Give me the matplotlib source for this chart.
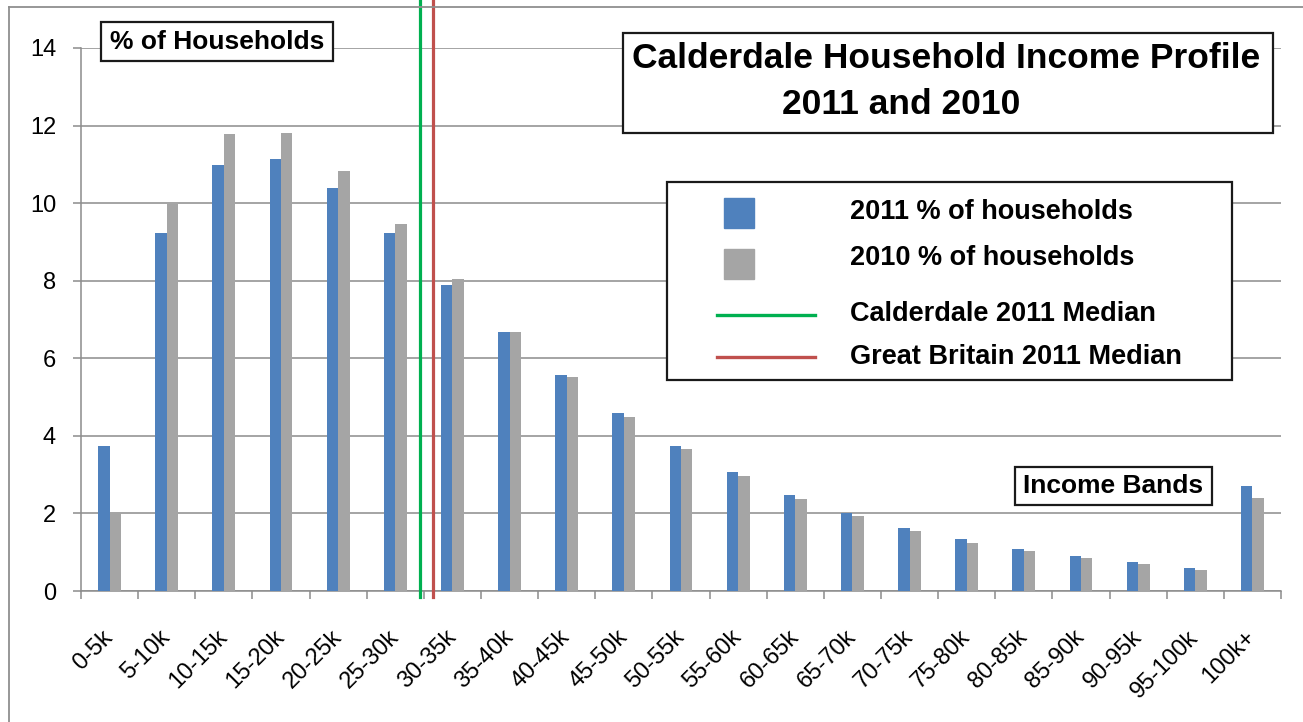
import matplotlib
matplotlib.use("Agg")
import matplotlib.pyplot as plt
import numpy as np
from matplotlib.patches import Rectangle
from matplotlib.lines import Line2D

plt.rcParams['font.family'] = ['Liberation Sans', 'DejaVu Sans']

# income bands and share of households (%)
bands = ['0-5k', '5-10k', '10-15k', '15-20k', '20-25k', '25-30k', '30-35k',
         '35-40k', '40-45k', '45-50k', '50-55k', '55-60k', '60-65k', '65-70k',
         '70-75k', '75-80k', '80-85k', '85-90k', '90-95k', '95-100k', '100k+']
pct_2011 = [3.73, 9.23, 10.99, 11.14, 10.39, 9.23, 7.90, 6.68, 5.56, 4.58,
            3.75, 3.06, 2.48, 2.02, 1.63, 1.33, 1.09, 0.89, 0.75, 0.60, 2.70]
pct_2010 = [2.00, 9.99, 11.77, 11.82, 10.84, 9.47, 8.04, 6.68, 5.51, 4.49,
            3.65, 2.97, 2.37, 1.94, 1.54, 1.23, 1.04, 0.84, 0.70, 0.55, 2.40]

# medians in £k
calderdale_median = 29.7
gb_median = 30.8
band_width = 5.0

BLUE = '#4f81bd'
GREY = '#a5a5a5'
GREEN = '#00b050'
RED = '#c0504d'
GRID = '#8c8c8c'

W, H = 1303, 722
fig = plt.figure(figsize=(W / 100, H / 100), dpi=100)


def fx(x):
    return x / W


def fy(y):
    return 1 - y / H


def box(x0, y0, x1, y1, lw=1.6):
    fig.add_artist(Rectangle((fx(x0), fy(y1)), fx(x1) - fx(x0), fy(y0) - fy(y1),
                             transform=fig.transFigure, facecolor='white',
                             edgecolor='#1a1a1a', linewidth=lw, zorder=5))


# outer chart frame
fig.add_artist(Line2D([fx(9), fx(W + 5)], [fy(7), fy(7)], transform=fig.transFigure,
                      color='#8f8f8f', lw=1.3))
fig.add_artist(Line2D([fx(9), fx(9)], [fy(7), fy(H + 5)], transform=fig.transFigure,
                      color='#8f8f8f', lw=1.3))

ax = fig.add_axes([fx(81), fy(591), fx(1281) - fx(81), fy(48) - fy(591)])
x = np.arange(len(bands))
ax.bar(x - 0.1, pct_2011, 0.2, color=BLUE, zorder=3)
ax.bar(x + 0.1, pct_2010, 0.2, color=GREY, zorder=3)

ax.set_xlim(-0.5, len(bands) - 0.5)
ax.set_ylim(0, 14)
ax.set_yticks(np.arange(0, 15, 2))
ax.yaxis.grid(True, color=GRID, lw=1.1, zorder=0)
ax.set_axisbelow(True)

ax.set_xticks(np.arange(-0.5, len(bands), 1))
ax.set_xticklabels([])
ax.set_xticks(x, minor=True)
ax.set_xticklabels(bands, minor=True, rotation=45, ha='right', va='center',
                   rotation_mode='anchor', fontsize=17)
ax.tick_params(axis='x', which='minor', length=0, pad=31)
ax.tick_params(axis='x', which='major', length=6, color=GRID, width=1.1)
ax.tick_params(axis='y', length=6, color=GRID, width=1.1, pad=12, labelsize=17)

for side in ['top', 'right']:
    ax.spines[side].set_visible(False)
for side in ['left', 'bottom']:
    ax.spines[side].set_color(GRID)
    ax.spines[side].set_linewidth(1.1)

# median markers, running past the plot area
y_lo, y_hi = -6 / 38.8, 591 / 38.8
for med, col in [(calderdale_median, GREEN), (gb_median, RED)]:
    pos = med / band_width - 0.5
    ax.plot([pos, pos], [y_lo, y_hi], color=col, lw=2.3, clip_on=False, zorder=4)

# title
box(623, 33, 1273, 133)
fig.text(fx(946), fy(59), 'Calderdale Household Income Profile', ha='center',
         va='center', fontsize=25.5, fontweight='bold', zorder=6)
fig.text(fx(901), fy(104), '2011 and 2010', ha='center', va='center',
         fontsize=25.5, fontweight='bold', zorder=6)

# axis captions
box(101, 22, 333, 61)
fig.text(fx(217), fy(42), '% of Households', ha='center', va='center',
         fontsize=19, fontweight='bold', zorder=6)
box(1015, 467, 1212, 505)
fig.text(fx(1113), fy(486), 'Income Bands', ha='center', va='center',
         fontsize=19, fontweight='bold', zorder=6)

# legend
box(667, 182, 1232, 380)
for y0, col in [(198, BLUE), (249, GREY)]:
    fig.add_artist(Rectangle((fx(724), fy(y0 + 30)), fx(30), fy(0) - fy(30),
                             transform=fig.transFigure, color=col, zorder=6))
for yy, col in [(315, GREEN), (357, RED)]:
    fig.add_artist(Line2D([fx(717), fx(815)], [fy(yy), fy(yy)],
                          transform=fig.transFigure, color=col, lw=2.4, zorder=6))
labels = ['2011 % of households', '2010 % of households',
          'Calderdale 2011 Median', 'Great Britain 2011 Median']
for yy, lab in zip([212, 258, 314, 357], labels):
    fig.text(fx(850), fy(yy), lab, ha='left', va='center', fontsize=19.5,
             fontweight='bold', zorder=6)

fig.savefig('out.png', dpi=100)
